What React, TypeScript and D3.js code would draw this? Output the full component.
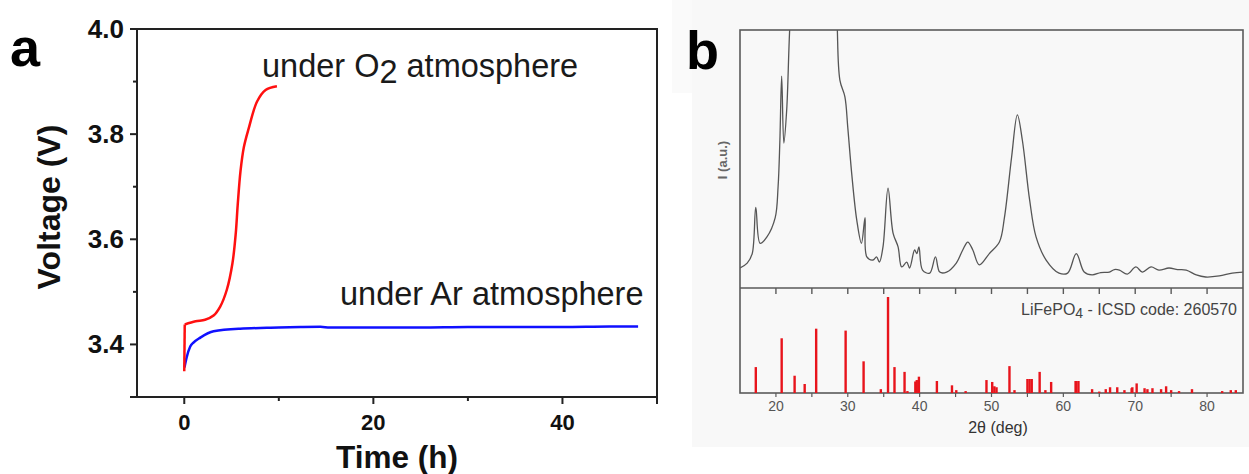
import React from "react";
import * as d3 from "d3";

// ---------- Panel a data ----------
const o2Time = [0, 0.05, 1.2, 2.2, 3.1, 3.8, 4.5, 5.1, 5.45, 5.65, 5.95, 6.3, 6.8, 7.7, 8.6, 9.8];
const o2Volt = [3.349, 3.438, 3.444, 3.447, 3.455, 3.472, 3.504, 3.555, 3.612, 3.665, 3.73, 3.775, 3.81, 3.862, 3.884, 3.891];
const arTime = [0.02, 0.25, 0.63, 1.0, 1.7, 3.1, 5.9, 10, 12.3, 14.4, 15.4, 20, 25, 30, 35, 40, 45, 48];
const arVolt = [3.356, 3.375, 3.396, 3.404, 3.413, 3.425, 3.430, 3.432, 3.433, 3.4335, 3.432, 3.432, 3.432, 3.433, 3.433, 3.433, 3.434, 3.434];
const aXTicks = [0, 20, 40];
const aXMinor = [10, 30];
const aYTicks = [3.4, 3.6, 3.8, 4.0];
const aYMinor = [3.5, 3.7, 3.9];

// ---------- Panel b data ----------
const xrdTheta = [15, 16, 16.7, 17.2, 17.8, 18.75, 19.9, 20.3, 20.55, 20.8, 21.1, 21.5, 22, 23, 28, 28.5, 28.9, 29.6, 30.0, 30.55, 31.25, 31.9, 32.4, 32.65, 33.5, 34, 34.4, 34.9, 35.6, 36.3, 37, 37.5, 38.2, 38.6, 39.3, 39.6, 39.9, 40.4, 41.4, 42.2, 42.8, 43.75, 45.1, 46, 46.7, 47.4, 48.3, 49.7, 51.1, 51.8, 52.8, 53.6, 54.3, 55.3, 56.2, 57.6, 59.4, 60.6, 61.8, 62.9, 64, 65.2, 66.4, 67.1, 67.8, 68.9, 70.1, 71, 72.2, 73.3, 74.7, 75.9, 77.1, 78.5, 79.8, 81.7, 83.5, 85];
const xrdInt = [7.4, 9.3, 13, 31, 17, 19.5, 27, 39, 57, 82, 56, 69, 105, 140, 140, 104, 80.5, 74, 62, 44, 26, 17, 27, 11.7, 10.5, 11.7, 9.7, 15.6, 38.5, 21, 15.6, 7.8, 9.7, 7.4, 14.4, 13, 15.6, 6.6, 5.4, 11.7, 5.8, 5.8, 9.3, 14.4, 17.5, 14.4, 8.6, 13, 17.5, 27, 50.6, 67, 57, 34, 19.5, 10.5, 5.4, 5.4, 13, 5.8, 4.7, 5.6, 5.8, 6.8, 6.6, 5.0, 7.8, 5.8, 7.8, 6.6, 7.4, 6.8, 6.6, 4.7, 3.9, 4.3, 5.4, 5.8];
const stickTheta = [17.2, 20.8, 22.6, 24.0, 25.6, 29.7, 32.2, 34.6, 35.6, 36.5, 37.9, 38.3, 39.4, 39.6, 39.9, 42.4, 44.5, 45.1, 46.4, 49.3, 50.1, 50.4, 50.7, 52.5, 53.2, 55.0, 55.3, 55.6, 56.7, 57.5, 58.3, 61.7, 61.8, 62.1, 64.0, 65.0, 65.9, 66.5, 67.5, 68.5, 69.5, 69.6, 70.2, 71.3, 71.7, 72.4, 73.6, 74.3, 75.0, 76.1, 77.9, 82.1, 83.3, 84.0];
const stickInt = [27, 57, 18, 9.4, 67, 65, 33, 4, 100, 27, 22, 2, 12, 13.5, 17, 12.5, 8, 3, 2, 13.5, 11.5, 7, 6, 28, 3, 14.6, 14.6, 14.6, 22, 3, 11.5, 12.5, 12.5, 12.5, 4, 1.5, 4, 6, 6, 3, 5, 6, 10, 5, 4, 5, 4, 7, 3, 2, 4, 2, 3, 3];
const bXTicks = [20, 30, 40, 50, 60, 70, 80];
const bXMinor = [25, 35, 45, 55, 65, 75];

export default function App() {
  // Panel a scales
  const ax = d3.scaleLinear().domain([-5, 50]).range([137, 657]);
  const ay = d3.scaleLinear().domain([3.3, 4.0]).range([397, 29]);
  const bluePath = d3.line<number>().x((_, i) => ax(arTime[i])).y((_, i) => ay(arVolt[i])).curve(d3.curveMonotoneX)(arTime) || "";
  const redIdx = d3.range(1, o2Time.length);
  const redJump = `M${ax(o2Time[0])},${ay(o2Volt[0])}L${ax(o2Time[1])},${ay(o2Volt[1])}`;
  const redPath = d3.line<number>().x((i) => ax(o2Time[i])).y((i) => ay(o2Volt[i])).curve(d3.curveCatmullRom.alpha(0.5))(redIdx) || "";

  // Panel b scales
  const bx = d3.scaleLinear().domain([15, 85]).range([740, 1243]);
  const byTop = d3.scaleLinear().domain([0, 100]).range([287, 30]);
  const byBot = d3.scaleLinear().domain([0, 100]).range([393, 297]);
  const xrdPath = d3.line<number>().x((_, i) => bx(xrdTheta[i])).y((_, i) => byTop(xrdInt[i])).curve(d3.curveCatmullRom.alpha(0.5))(xrdTheta) || "";

  const font = "Liberation Sans, Arial, sans-serif";
  const bGray = "#5a5a5a";

  return (
    <svg width={1249} height={474} style={{ position: "absolute", left: 0, top: 0, background: "#fff" }}>
      <defs>
        <clipPath id="clipTop">
          <rect x={740} y={30} width={503} height={257} />
        </clipPath>
      </defs>

      {/* ========== Panel a ========== */}
      <text x={10} y={66} fontFamily={font} fontWeight="bold" fontSize={54} fill="#000">a</text>
      <rect x={137} y={29} width={520} height={368} fill="none" stroke="#222" strokeWidth={2} />
      {aYTicks.map((v) => (
        <g key={"ay" + v}>
          <line x1={130} x2={137} y1={ay(v)} y2={ay(v)} stroke="#222" strokeWidth={2} />
          <text x={124} y={ay(v) + 9} textAnchor="end" fontFamily={font} fontWeight="bold" fontSize={26} fill="#111">{v.toFixed(1)}</text>
        </g>
      ))}
      {aYMinor.map((v) => (
        <line key={"aym" + v} x1={133} x2={137} y1={ay(v)} y2={ay(v)} stroke="#222" strokeWidth={2} />
      ))}
      <line x1={130} x2={137} y1={397} y2={397} stroke="#222" strokeWidth={2} />
      {aXTicks.map((v) => (
        <g key={"ax" + v}>
          <line x1={ax(v)} x2={ax(v)} y1={397} y2={404} stroke="#222" strokeWidth={2} />
          <text x={ax(v)} y={430} textAnchor="middle" fontFamily={font} fontWeight="bold" fontSize={22} fill="#111">{v}</text>
        </g>
      ))}
      {aXMinor.map((v) => (
        <line key={"axm" + v} x1={ax(v)} x2={ax(v)} y1={397} y2={401} stroke="#222" strokeWidth={2} />
      ))}
      <line x1={657} x2={657} y1={397} y2={404} stroke="#222" strokeWidth={2} />
      <text x={397} y={468} textAnchor="middle" fontFamily={font} fontWeight="bold" fontSize={31.5} fill="#111">Time (h)</text>
      <text transform="translate(60,207) rotate(-90)" textAnchor="middle" fontFamily={font} fontWeight="bold" fontSize={32} fill="#111">Voltage (V)</text>

      <path d={bluePath} fill="none" stroke="#1010ff" strokeWidth={2.5} />
      <path d={redJump} fill="none" stroke="#ff1010" strokeWidth={2.5} />
      <path d={redPath} fill="none" stroke="#ff1010" strokeWidth={2.5} strokeLinejoin="round" />

      <text x={262} y={77} fontFamily={font} fontSize={32.5} fill="#1a1a1a">
        under O<tspan dy={6}>2</tspan><tspan dy={-6}> atmosphere</tspan>
      </text>
      <text x={340} y={305} fontFamily={font} fontSize={32.5} fill="#1a1a1a">under Ar atmosphere</text>

      {/* ========== Panel b ========== */}
      <rect x={692} y={0} width={557} height={447} fill="#f8f8f8" />
      <rect x={672} y={0} width={20} height={93} fill="#fafafa" />
      <text x={686} y={69} fontFamily={font} fontWeight="bold" fontSize={54} fill="#000">b</text>

      <path d={xrdPath} fill="none" stroke="#555" strokeWidth={1.3} clipPath="url(#clipTop)" />
      <rect x={740} y={30} width={503} height={363} fill="none" stroke={bGray} strokeWidth={1.6} />
      <line x1={740} x2={1243} y1={288} y2={288} stroke={bGray} strokeWidth={1.6} />
      {[...bXTicks, ...bXMinor].map((v) => (
        <g key={"bt" + v}>
          <line x1={bx(v)} x2={bx(v)} y1={288} y2={294} stroke={bGray} strokeWidth={1.4} />
          <line x1={bx(v)} x2={bx(v)} y1={393} y2={397} stroke={bGray} strokeWidth={1.2} />
        </g>
      ))}
      {stickTheta.map((t, i) => (
        <line key={"s" + i} x1={bx(t)} x2={bx(t)} y1={393} y2={byBot(stickInt[i])} stroke="#e8141c" strokeWidth={2.4} />
      ))}
      {bXTicks.map((v) => (
        <text key={"bl" + v} x={bx(v)} y={411} textAnchor="middle" fontFamily={font} fontSize={14} fill="#555">{v}</text>
      ))}
      <text x={998} y={433} textAnchor="middle" fontFamily={font} fontSize={16} fill="#333">2θ (deg)</text>
      <text transform="translate(727,160) rotate(-90)" textAnchor="middle" fontFamily={font} fontWeight="bold" fontSize={13} fill="#666">I (a.u.)</text>
      <text x={1237} y={315} textAnchor="end" fontFamily={font} fontSize={16} fill="#444">
        LiFePO<tspan fontSize={14} dy={3}>4</tspan><tspan dy={-3}> - ICSD code: 260570</tspan>
      </text>
    </svg>
  );
}
